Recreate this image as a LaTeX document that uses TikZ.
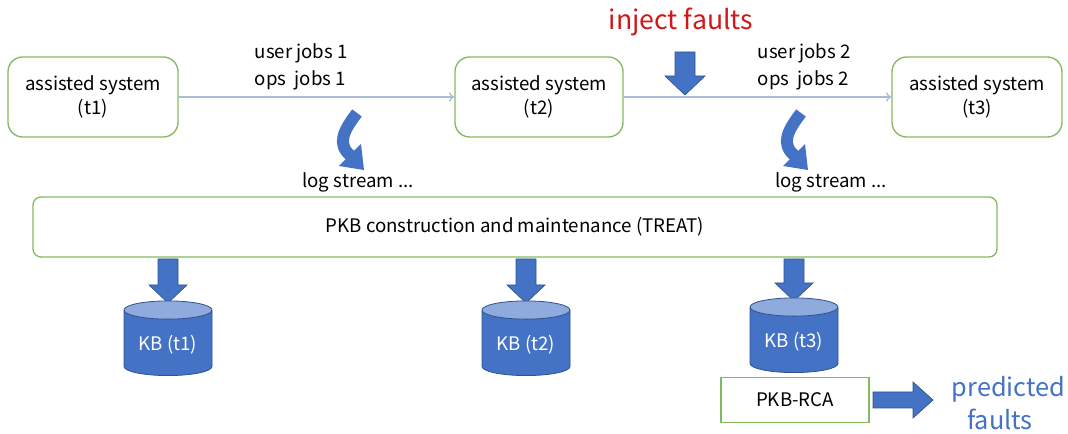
\documentclass[tikz,border=0pt]{standalone}
\usepackage{fontspec}
\setmainfont{Noto Sans CJK SC}
\usetikzlibrary{shapes.geometric,arrows.meta}
\definecolor{gbord}{HTML}{84BA5E}
\definecolor{kbblue}{HTML}{4472C4}
\definecolor{kbtop}{HTML}{8FAADC}
\definecolor{kbedge}{HTML}{2F528F}
\definecolor{linkc}{HTML}{A9BCD6}
\definecolor{injred}{HTML}{D01818}
\definecolor{predblue}{HTML}{4472C4}
\tikzset{
  sysbox/.style={draw=gbord, line width=1pt, rounded corners=11pt, minimum width=127.5pt, minimum height=60pt, align=center, font=\fontsize{14}{18}\selectfont},
  widebox/.style={draw=gbord, line width=1pt, rounded corners=6pt, minimum width=723pt, minimum height=45pt, font=\fontsize{14}{16}\selectfont},
  rcabox/.style={draw=gbord, line width=1pt, minimum width=111pt, minimum height=34pt, font=\fontsize{14}{16}\selectfont},
  kb/.style={cylinder, shape border rotate=90, aspect=0.27, draw=kbedge, line width=0.6pt, cylinder uses custom fill, cylinder body fill=kbblue, cylinder end fill=kbtop, minimum width=66pt, minimum height=56pt, text=white, font=\fontsize{14}{16}\selectfont},
  link/.style={draw=linkc, line width=1pt, -{To[length=4pt,width=7pt]}},
  lbl/.style={font=\fontsize{14}{20}\selectfont, align=left},
  blockarrow/.style={fill=kbblue, draw=kbedge, line width=0.5pt},
  curvshaft/.style={draw=kbblue, line width=9pt},
  curvhead/.style={fill=kbblue}
}
\begin{document}
\begin{tikzpicture}[x=0.75pt,y=-0.75pt]
\useasboundingbox (0,0) rectangle (1068,434);
% system boxes
\node[sysbox] (s1) at (93,97) {assisted system\\(t1)};
\node[sysbox, minimum width=126pt] (s2) at (539,97) {assisted system\\(t2)};
\node[sysbox] (s3) at (977,97) {assisted system\\(t3)};
\draw[link] (s1) -- (s2);
\draw[link] (s2) -- (s3);
\node[lbl, anchor=west] (jobs1) at (250,67) {user jobs 1\\ops\ \ jobs 1};
\node[lbl, anchor=west] (jobs2) at (753,67) {user jobs 2\\ops\ \ jobs 2};
\node[font=\fontsize{20}{22}\selectfont, text=injred] (inject) at (681,22) {inject faults};
% inject arrow
\draw[blockarrow] (675,52) -- (695,52) -- (695,76) -- (705,76) -- (685,95) -- (665,76) -- (675,76) -- cycle;
% curved arrows
\foreach \dx in {0,444}{
  \draw[curvshaft] (\dx+357,113) .. controls (\dx+344,130) and (\dx+336,144) .. (\dx+351,156);
  \fill[curvhead] (\dx+339,166) -- (\dx+361,144) -- (\dx+364,170) -- cycle;
}
\node[font=\fontsize{14}{16}\selectfont] (log1) at (358,182) {log stream ...};
\node[font=\fontsize{14}{16}\selectfont] (log2) at (831,182) {log stream ...};
% wide box
\node[widebox] (pkb) at (515,227) {PKB construction and maintenance (TREAT)};
% down arrows
\foreach \x/\yt/\yb in {168/259/303, 526/259/303, 794/259/301}{
  \draw[blockarrow] (\x-10,\yt) -- (\x+10,\yt) -- (\x+10,\yb-18) -- (\x+19,\yb-18) -- (\x,\yb) -- (\x-19,\yb-18) -- (\x-10,\yb-18) -- cycle;
}
% cylinders
\node[kb] (kb1) at (168,345) {KB (t1)};
\node[kb] (kb2) at (526,345) {KB (t2)};
\node[kb] (kb3) at (794,342) {KB (t3)};
% RCA
\node[rcabox, fill=white] (rca) at (795,400) {PKB-RCA};
\draw[blockarrow] (873,392) -- (913,392) -- (913,382) -- (933,400) -- (913,418) -- (913,408) -- (873,408) -- cycle;
\node[font=\fontsize{19}{25}\selectfont, text=predblue, align=center] (pred) at (1000,403) {\ \ \ predicted\\faults};
\end{tikzpicture}
\end{document}
